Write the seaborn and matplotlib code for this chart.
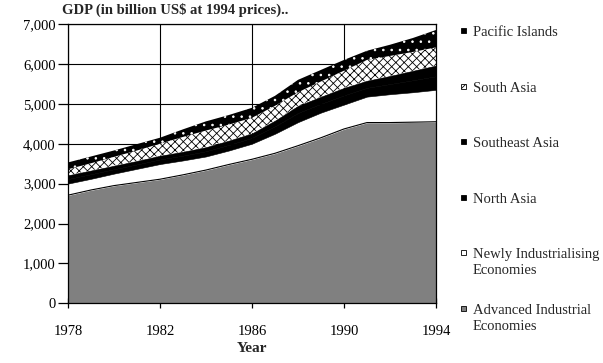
import numpy as np
import seaborn as sns
import matplotlib.pyplot as plt
from matplotlib.patches import Rectangle

years = list(range(1978, 1995))

# GDP by group, billion US$ at 1994 prices
advanced = [2710, 2840, 2950, 3030, 3110, 3220, 3340, 3480, 3610, 3760, 3950, 4150, 4370, 4530, 4530, 4540, 4550]
newly_ind = [290, 280, 300, 340, 380, 360, 340, 350, 390, 490, 590, 630, 610, 650, 710, 750, 800]
north_asia = [115, 115, 110, 110, 115, 120, 130, 140, 145, 185, 230, 220, 230, 220, 255, 300, 340]
southeast_asia = [95, 95, 90, 90, 95, 100, 105, 110, 115, 145, 180, 180, 190, 180, 205, 240, 270]
south_asia = [150, 180, 220, 260, 300, 370, 415, 400, 390, 370, 340, 380, 430, 520, 500, 470, 455]
pacific = [170, 170, 160, 160, 150, 190, 230, 240, 250, 250, 310, 290, 270, 230, 280, 350, 435]

labels = ['Advanced Industrial\nEconomies', 'Newly Industrialising\nEconomies', 'North Asia',
          'Southeast Asia', 'South Asia', 'Pacific Islands']
faces = ['#808080', 'white', 'black', 'black', 'white', 'black']
hatches = [None, None, None, None, 'xxxx', '..']
swatch_hatch = ['', '', '', '', 'xx', '']

sns.set_style('ticks')
plt.rcParams['font.family'] = ['Liberation Serif', 'DejaVu Serif']
plt.rcParams['hatch.linewidth'] = 0.6

fig = plt.figure(figsize=(6.03, 3.63), dpi=100)
ax = fig.add_axes([68 / 603, 1 - 303.3 / 363, 368 / 603, 279.3 / 363])

polys = ax.stackplot(years, advanced, newly_ind, north_asia, southeast_asia, south_asia, pacific,
                     colors=faces, zorder=2)
for p, f, h in zip(polys, faces, hatches):
    p.set_edgecolor(f)
    p.set_linewidth(0.4)
    if h:
        p.set_hatch(h)
        # hatch colour follows the edge colour
        p.set_edgecolor('white' if f == 'black' else 'black')
        p.set_linewidth(0)
# thin outline on top of the advanced economies band
ax.plot(years, advanced, color='black', lw=0.8, zorder=3)

ax.set_xlim(1978, 1994)
ax.set_ylim(0, 7000)
ax.set_xticks([1978, 1982, 1986, 1990, 1994])
ax.set_yticks(range(0, 7001, 1000))
ax.yaxis.set_major_formatter(plt.FuncFormatter(lambda v, _: f'{int(v):,}'))
ax.grid(True, color='black', lw=0.8, zorder=0)
ax.set_axisbelow(True)
for s in ax.spines.values():
    s.set_color('black')
    s.set_linewidth(0.9)
    s.set_zorder(4)
ax.tick_params(axis='y', direction='out', length=7, width=0.9, pad=2, labelsize=10.5, colors='black')
ax.tick_params(axis='x', direction='inout', length=7, width=0.9, pad=12, labelsize=10.5, colors='black')
ax.set_xlabel('Year', fontsize=11, fontweight='bold', labelpad=3)

fig.text(62 / 603, 1 - 3 / 363, 'GDP (in billion US$ at 1994 prices)..', fontsize=10.5,
         fontweight='bold', ha='left', va='top')

# legend, top entry first
for i, k in enumerate(range(5, -1, -1)):
    top = 28 + i * 55.6
    fig.patches.append(Rectangle((461 / 603, 1 - (top + 5) / 363), 5 / 603, 5 / 363,
                                 transform=fig.transFigure, facecolor=faces[k],
                                 edgecolor='black', lw=0.6, hatch=swatch_hatch[k]))
    fig.text(473 / 603, 1 - (top - 2) / 363, labels[k], fontsize=10.5, ha='left', va='top',
             linespacing=1.3)

fig.savefig('out.png', dpi=100)
